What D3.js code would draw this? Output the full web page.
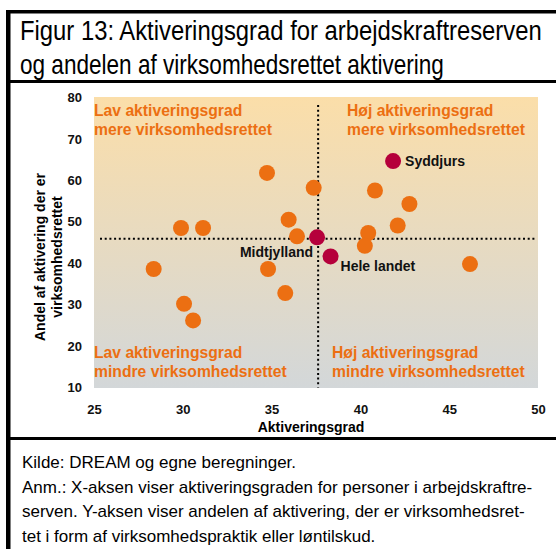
<!DOCTYPE html>
<html>
<head>
<meta charset="utf-8">
<script src="https://cdn.jsdelivr.net/npm/d3@7"></script>
<style>
  body { margin: 0; background: #fff; }
  svg { display: block; }
</style>
</head>
<body>
<div id="chart"></div>
<script>
// kommuner (orange) - aktiveringsgrad og andel virksomhedsrettet
const townX = [28.36, 29.9, 31.14, 30.07, 30.58, 34.74, 34.8, 35.77, 35.96, 36.43, 37.37, 40.82, 42.76, 42.1, 40.44, 40.25, 46.17];
const townY = [38.6, 48.5, 48.5, 30.2, 26.2, 61.8, 38.6, 32.8, 50.5, 46.5, 58.2, 57.55, 54.3, 49.1, 47.3, 44.2, 39.8];

// fremhaevede punkter
const markNames = ['Syddjurs', 'Midtjylland', 'Hele landet'];
const markX = [41.84, 37.56, 38.32];
const markY = [64.65, 46.25, 41.65];

// skillelinjer
const refX = 37.62;
const refY = 45.9;

const xTicks = [25, 30, 35, 40, 45, 50];
const yTicks = [10, 20, 30, 40, 50, 60, 70, 80];

const titleLines = [
  'Figur 13: Aktiveringsgrad for arbejdskraftreserven',
  'og andelen af virksomhedsrettet aktivering'
];
const noteLines = [
  'Kilde: DREAM og egne beregninger.',
  'Anm.: X-aksen viser aktiveringsgraden for personer i arbejdskraftre-',
  'serven. Y-aksen viser andelen af aktivering, der er virksomhedsret-',
  'tet i form af virksomhedspraktik eller løntilskud.'
];
const quadLabels = [
  ['Lav aktiveringsgrad', 'mere virksomhedsrettet'],
  ['Høj aktiveringsgrad', 'mere virksomhedsrettet'],
  ['Lav aktiveringsgrad', 'mindre virksomhedsrettet'],
  ['Høj aktiveringsgrad', 'mindre virksomhedsrettet']
];

const W = 556, H = 549;
const narrow = '"Liberation Sans Narrow", "Arial Narrow", "Liberation Sans", Arial, sans-serif';
const sans = '"Liberation Sans", Arial, sans-serif';
const orange = '#EC6F12';
const darkRed = '#B5003B';

let svg = d3.select('#chart').append('svg')
    .attr('width', W)
    .attr('height', H);

let x = d3.scaleLinear().domain([25, 50]).range([94, 538]);
let y = d3.scaleLinear().domain([10, 80]).range([387.5, 97.5]);

// frame
svg.append('rect').attr('x', 6).attr('y', 10).attr('width', 4.5).attr('height', H - 10).attr('fill', '#000');
svg.append('rect').attr('x', 6).attr('y', 10).attr('width', W - 6).attr('height', 3.5).attr('fill', '#000');
svg.append('rect').attr('x', 6).attr('y', 80).attr('width', W - 6).attr('height', 3).attr('fill', '#000');
svg.append('rect').attr('x', 6).attr('y', 437).attr('width', W - 6).attr('height', 3).attr('fill', '#000');

// narrow text: squeeze horizontally to the width seen in the figure
function squeezed(lines, cls, x0, y0, step, size, widths) {
  svg.selectAll('text.' + cls)
    .data(lines)
    .enter().append('text')
      .attr('class', cls)
      .attr('x', 0)
      .attr('y', 0)
      .style('font-family', narrow)
      .style('font-size', size + 'px')
      .text(d => d)
      .each(function(d, i) {
        let natural = this.getComputedTextLength();
        let sx = Math.min(1, widths[i] / natural);
        d3.select(this).attr('transform',
          'translate(' + x0 + ',' + (y0 + i * step) + ') scale(' + sx + ',1)');
      });
}

squeezed(titleLines, 'title', 20, 40, 34, 27, [522, 424]);
squeezed(noteLines, 'note', 22, 468, 24.5, 17, [292, 515, 505, 363]);

// plot background gradient
let grad = svg.append('defs').append('linearGradient')
    .attr('id', 'bg')
    .attr('x1', 0).attr('y1', 0).attr('x2', 0).attr('y2', 1);
grad.append('stop').attr('offset', '0%').attr('stop-color', '#FBDEA9');
grad.append('stop').attr('offset', '100%').attr('stop-color', '#D3D7D9');

svg.append('rect')
    .attr('x', x(25))
    .attr('y', y(80) - 0.5)
    .attr('width', x(50) - x(25))
    .attr('height', y(10) - y(80) + 1)
    .attr('fill', 'url(#bg)');

// quadrant labels
const quadPos = [[94, 110], [347, 110], [94, 352], [332, 352]];
quadLabels.forEach((lines, q) => {
  svg.append('text')
      .attr('x', quadPos[q][0])
      .attr('y', quadPos[q][1] + 5.5)
      .style('font-family', sans)
      .style('font-weight', 'bold')
      .style('font-size', '15.7px')
      .style('fill', orange)
    .selectAll('tspan')
    .data(lines)
    .enter().append('tspan')
      .attr('x', quadPos[q][0])
      .attr('dy', (d, i) => i === 0 ? 0 : 19)
      .text(d => d);
});

// dotted reference lines
svg.append('line')
    .attr('x1', x(refX)).attr('x2', x(refX))
    .attr('y1', 105).attr('y2', y(10))
    .style('stroke', '#000')
    .style('stroke-width', 2)
    .style('stroke-dasharray', '2,2.7');
svg.append('line')
    .attr('x1', 100).attr('x2', 537)
    .attr('y1', y(refY)).attr('y2', y(refY))
    .style('stroke', '#000')
    .style('stroke-width', 2)
    .style('stroke-dasharray', '2,2.7');

// points
svg.append('g').selectAll('circle')
  .data(townX.map((v, i) => [v, townY[i]]))
  .enter().append('circle')
    .attr('cx', d => x(d[0]))
    .attr('cy', d => y(d[1]))
    .attr('r', 8)
    .style('fill', orange);

svg.append('g').selectAll('circle')
  .data(markX.map((v, i) => [v, markY[i]]))
  .enter().append('circle')
    .attr('cx', d => x(d[0]))
    .attr('cy', d => y(d[1]))
    .attr('r', 8)
    .style('fill', darkRed);

// point labels
const labDx = [12, -4, 10];
const labDy = [5, 20, 15];
const labAnchor = ['start', 'end', 'start'];
svg.append('g').selectAll('text')
  .data(markNames)
  .enter().append('text')
    .attr('x', (d, i) => x(markX[i]) + labDx[i])
    .attr('y', (d, i) => y(markY[i]) + labDy[i])
    .attr('text-anchor', (d, i) => labAnchor[i])
    .style('font-family', sans)
    .style('font-weight', 'bold')
    .style('font-size', '14px')
    .style('fill', '#111')
    .text(d => d);

// axes
let xAxis = svg.append('g')
    .attr('transform', 'translate(0,' + y(10) + ')')
    .call(d3.axisBottom(x).tickValues(xTicks).tickSize(0).tickPadding(17).tickFormat(d3.format('d')));
let yAxis = svg.append('g')
    .attr('transform', 'translate(' + x(25) + ',0)')
    .call(d3.axisLeft(y).tickValues(yTicks).tickSize(0).tickPadding(12).tickFormat(d3.format('d')));

[xAxis, yAxis].forEach(a => {
  a.select('.domain').remove();
  a.selectAll('text')
    .style('font-family', sans)
    .style('font-weight', 'bold')
    .style('font-size', '13px')
    .style('fill', '#111');
});

// axis titles
svg.append('text')
    .attr('x', 311)
    .attr('y', 432)
    .attr('text-anchor', 'middle')
    .style('font-family', sans)
    .style('font-weight', 'bold')
    .style('font-size', '14px')
    .text('Aktiveringsgrad');

svg.append('text')
    .attr('transform', 'translate(45,257) rotate(-90)')
    .attr('text-anchor', 'middle')
    .style('font-family', sans)
    .style('font-weight', 'bold')
    .style('font-size', '14px')
  .selectAll('tspan')
  .data(['Andel af aktivering der er', 'virksomhedsrettet'])
  .enter().append('tspan')
    .attr('x', 0)
    .attr('dy', (d, i) => i === 0 ? 0 : 17)
    .text(d => d);
</script>
</body>
</html>
